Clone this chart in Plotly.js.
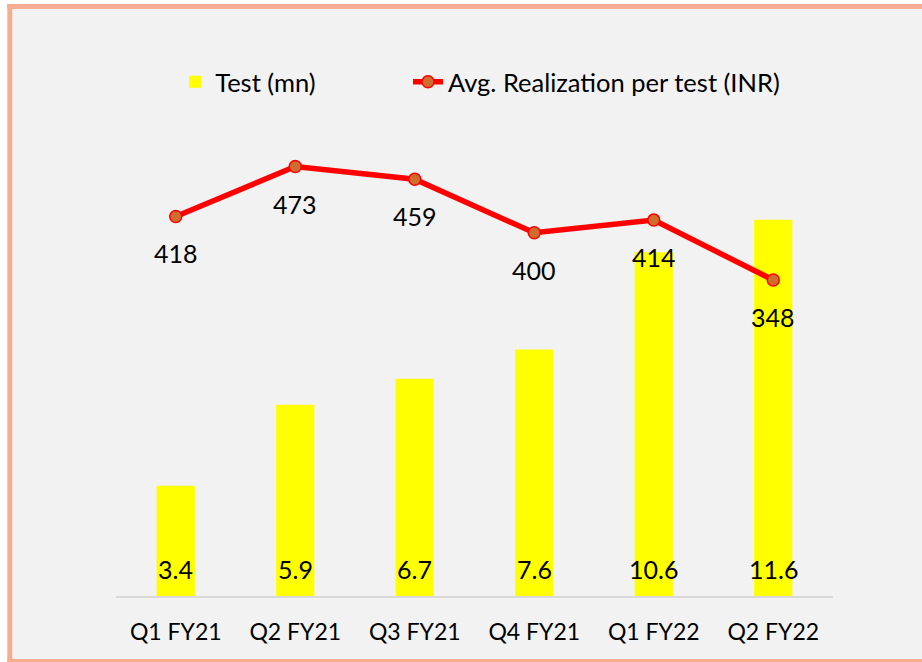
<!DOCTYPE html>
<html>
<head>
<meta charset="utf-8">
<script src="https://cdn.plot.ly/plotly-3.0.1.min.js"></script>
<style>html,body{margin:0;padding:0;background:#fff;}#chart{width:922px;height:662px;}</style>
</head>
<body>
<div id="chart"></div>
<script>
const categories = ["Q1 FY21", "Q2 FY21", "Q3 FY21", "Q4 FY21", "Q1 FY22", "Q2 FY22"];
const tests = [3.4, 5.9, 6.7, 7.6, 10.6, 11.6];
const testLabels = ["3.4", "5.9", "6.7", "7.6", "10.6", "11.6"];
const realization = [418, 473, 459, 400, 414, 348];

const FONT = "Lato, 'Open Sans', sans-serif";

const traces = [
  {
    type: "bar", name: "Test (mn)", x: categories, y: tests,
    marker: {color: "#FFFF00"}, hoverinfo: "skip", legend: "legend"
  },
  {
    type: "scatter", mode: "lines+markers", name: "Avg. Realization per test (INR)",
    x: categories, y: realization, yaxis: "y2", legend: "legend2",
    line: {color: "#FF0000", width: 5.5},
    marker: {color: "#CF6D2E", size: 12, line: {color: "#FF0000", width: 1.5}},
    hoverinfo: "skip"
  }
];

const annotations = [];
categories.forEach((c, i) => {
  annotations.push({x: c, y: 0, xref: "x", yref: "y", text: testLabels[i], showarrow: false,
    yanchor: "middle", yshift: 27, font: {family: FONT, size: 25, color: "#000"}});
  annotations.push({x: c, y: realization[i], xref: "x", yref: "y2", text: String(realization[i]), showarrow: false,
    yanchor: "middle", yshift: -37, font: {family: FONT, size: 25, color: "#000"}});
});

const legendBase = {
  orientation: "h", xref: "container", yref: "container",
  y: 0.876, xanchor: "left", yanchor: "middle",
  bgcolor: "rgba(0,0,0,0)", font: {family: FONT, size: 25.5, color: "#000"}
};

// frame geometry in paper fractions (plot area: x 116..833 px, y 141.5..596 px)
const px = v => (v - 116) / 717;
const py = v => (596 - v) / 454.5;
const BORDER = "#F4AD90";

const layout = {
  width: 922, height: 662,
  margin: {l: 116, r: 89, t: 141.5, b: 66, pad: 0},
  paper_bgcolor: "#FFFFFF",
  plot_bgcolor: "rgba(0,0,0,0)",
  font: {family: FONT, size: 23, color: "#000"},
  bargap: 0.68,
  showlegend: true,
  legend: Object.assign({}, legendBase, {x: 0.19}),
  legend2: Object.assign({}, legendBase, {x: 0.4425}),
  xaxis: {
    type: "category", showline: true, linecolor: "#D9D9D9", linewidth: 2,
    ticks: "", showgrid: false, zeroline: false, ticklabelstandoff: 14,
    tickfont: {family: FONT, size: 23, color: "#000"}, fixedrange: true
  },
  yaxis: {range: [0, 14], visible: false, showgrid: false, zeroline: false, fixedrange: true},
  yaxis2: {range: [0, 500], overlaying: "y", side: "right", visible: false, showgrid: false, zeroline: false, fixedrange: true},
  shapes: [
    {type: "rect", xref: "paper", yref: "paper", layer: "below",
     x0: px(9.8), x1: px(922), y0: py(661.5), y1: py(5.8),
     fillcolor: "#F2F2F2", line: {width: 0}},
    {type: "line", xref: "paper", yref: "paper", layer: "below",
     x0: px(7.3), x1: px(922), y0: py(5.8), y1: py(5.8), line: {color: BORDER, width: 5}},
    {type: "line", xref: "paper", yref: "paper", layer: "below",
     x0: px(9.8), x1: px(9.8), y0: py(3.3), y1: py(664), line: {color: BORDER, width: 5}},
    {type: "line", xref: "paper", yref: "paper", layer: "below",
     x0: px(7.3), x1: px(922), y0: py(661.5), y1: py(661.5), line: {color: BORDER, width: 5}}
  ],
  annotations: annotations
};

Plotly.newPlot("chart", traces, layout, {displayModeBar: false, staticPlot: true});
</script>
</body>
</html>
